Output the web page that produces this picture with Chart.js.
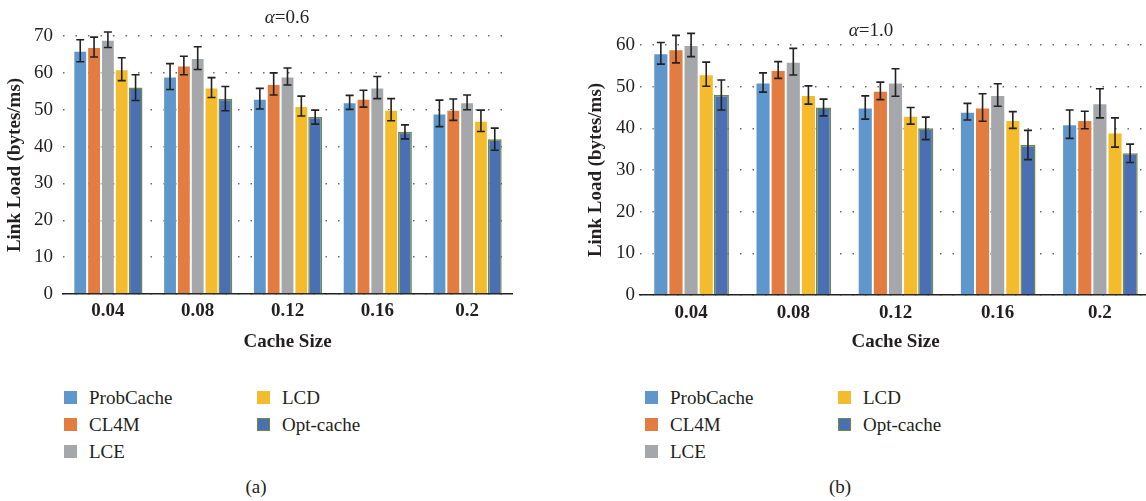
<!DOCTYPE html>
<html lang="en">
<head>
  <meta charset="UTF-8">
  <title>Link Load vs Cache Size</title>
  <script src="https://cdn.jsdelivr.net/npm/chart.js"></script>
  <style>
    html, body { margin: 0; padding: 0; background: #fff; overflow: hidden; }
    body { width: 1146px; height: 501px; position: relative; font-family: "Liberation Serif", serif; color: #231f20; }
    .box { position: absolute; }
    .title { position: absolute; font-size: 19px; transform: translate(-50%, -50%); white-space: nowrap; }
    .cap { position: absolute; font-size: 19px; transform: translate(-50%, -50%); }
    .leg { position: absolute; font-size: 19px; white-space: nowrap; line-height: 1; }
    .leg span.sq { position: absolute; left: 0; top: 3px; width: 13px; height: 13px; box-sizing: border-box; }
  </style>
</head>
<body>
  <div class="box" style="left:0;top:0;width:573px;height:360px"><canvas id="chartA"></canvas></div>
  <div class="box" style="left:573px;top:0;width:578px;height:360px"><canvas id="chartB"></canvas></div>
  <div class="title" style="left:287px;top:17px"><i>α</i>=0.6</div>
  <div class="title" style="left:871px;top:30px"><i>α</i>=1.0</div>
  <div id="legA"></div>
  <div id="legB"></div>
  <div class="cap" style="left:256px;top:487px">(a)</div>
  <div class="cap" style="left:840px;top:487px">(b)</div>

  <script>
    const cacheSizes = ['0.04', '0.08', '0.12', '0.16', '0.2'];
    const seriesNames = ['ProbCache', 'CL4M', 'LCE', 'LCD', 'Opt-cache'];
    const colors = ['#5f97cc', '#e27c40', '#a6a7aa', '#f4bc2d', '#4a6fb3'];

    // alpha = 0.6
    const probA = [66, 59, 53, 52, 49];
    const cl4mA = [67, 62, 57, 53, 50];
    const lceA  = [69, 64, 59, 56, 52];
    const lcdA  = [61, 56, 51, 50, 47];
    const optA  = [56, 53, 48, 44, 42];
    const probErrA = [3, 3.5, 2.8, 1.9, 3.6];
    const cl4mErrA = [2.7, 2.5, 3, 2.3, 2.9];
    const lceErrA  = [2.1, 3.1, 2.3, 3, 2];
    const lcdErrA  = [3.1, 2.7, 2.7, 3, 2.9];
    const optErrA  = [3.5, 3.3, 1.9, 1.9, 3];

    // alpha = 1.0
    const probB = [58, 51, 45, 44, 41];
    const cl4mB = [59, 54, 49, 45, 42];
    const lceB  = [60, 56, 51, 48, 46];
    const lcdB  = [53, 48, 43, 42, 39];
    const optB  = [48, 45, 40, 36, 34];
    const probErrB = [2.6, 2.3, 2.8, 2, 3.4];
    const cl4mErrB = [3.3, 2, 2.1, 3.3, 2.1];
    const lceErrB  = [2.8, 3.2, 3.3, 2.7, 3.5];
    const lcdErrB  = [2.9, 2.2, 2, 2, 3.5];
    const optErrB  = [3.6, 2, 2.7, 3.5, 2.2];

    const yTicksA = { max: 70, step: 10 };
    const yTicksB = { max: 60, step: 10 };

    // draws the error bars from the errs arrays given to each dataset
    const errorBars = {
      id: 'errorBars',
      afterDatasetsDraw(chart) {
        const ctx = chart.ctx;
        const y = chart.scales.y;
        ctx.save();
        ctx.strokeStyle = '#222';
        ctx.lineWidth = 1.6;
        chart.data.datasets.forEach((ds, i) => {
          chart.getDatasetMeta(i).data.forEach((bar, j) => {
            const v = ds.data[j], e = ds.errs[j];
            const top = y.getPixelForValue(v + e);
            const bot = y.getPixelForValue(v - e);
            ctx.beginPath();
            ctx.moveTo(bar.x, top); ctx.lineTo(bar.x, bot);
            ctx.moveTo(bar.x - 4, top); ctx.lineTo(bar.x + 4, top);
            ctx.moveTo(bar.x - 4, bot); ctx.lineTo(bar.x + 4, bot);
            ctx.stroke();
          });
        });
        ctx.restore();
      }
    };

    function makeChart(id, values, errs, ticks, o) {
      const datasets = values.map((vals, i) => ({
        label: seriesNames[i],
        data: vals,
        errs: errs[i],
        backgroundColor: colors[i],
        borderColor: i === 4 ? '#6f8a42' : 'rgba(255,255,255,0.55)',
        borderWidth: i === 4 ? 1.5 : 1
      }));
      return new Chart(document.getElementById(id), {
        type: 'bar',
        data: { labels: cacheSizes, datasets: datasets },
        plugins: [errorBars],
        options: {
          responsive: true,
          maintainAspectRatio: false,
          animation: false,
          layout: { padding: { left: 0, right: o.padRight, top: o.top, bottom: 0 } },
          datasets: { bar: { categoryPercentage: o.catPct, barPercentage: 1 } },
          plugins: { legend: { display: false }, tooltip: { enabled: false } },
          scales: {
            x: {
              grid: { display: false, drawTicks: false },
              border: { display: true, color: '#222', width: 1.5 },
              ticks: { color: '#231f20', padding: o.xPad, font: { family: 'Liberation Serif', size: 19, weight: 'bold' } },
              title: { display: true, text: 'Cache Size', color: '#231f20', padding: { top: 0, bottom: 6.6 },
                       font: { family: 'Liberation Serif', size: 19, weight: 'bold' } },
              afterFit: s => { s.height = 360 - o.bottom; }
            },
            y: {
              min: 0, max: ticks.max,
              grid: { color: '#6a6a6a', lineWidth: 1.5, drawTicks: false },
              border: { display: false, dash: [1.5, 11] },
              ticks: { stepSize: ticks.step, color: '#231f20', padding: o.yPad, font: { family: 'Liberation Serif', size: 19 } },
              title: { display: true, text: 'Link Load (bytes/ms)', color: '#231f20', padding: { top: o.yTitlePad, bottom: 0 },
                       font: { family: 'Liberation Serif', size: 19, weight: 'bold' } },
              afterFit: s => { s.width = o.left; }
            }
          }
        }
      });
    }

    makeChart('chartA', [probA, cl4mA, lceA, lcdA, optA], [probErrA, cl4mErrA, lceErrA, lcdErrA, optErrA], yTicksA,
      { left: 63, padRight: 61, top: 36, bottom: 294, catPct: 0.77, xPad: 6, yPad: 10, yTitlePad: 3.6 });
    makeChart('chartB', [probB, cl4mB, lceB, lcdB, optB], [probErrB, cl4mErrB, lceErrB, lcdErrB, optErrB], yTicksB,
      { left: 67, padRight: 0, top: 45, bottom: 295, catPct: 0.74, xPad: 6.6, yPad: 5, yTitlePad: 11.6 });

    // legends: two columns, filled column by column
    function makeLegend(id, sqX, col2X, textGap) {
      const el = document.getElementById(id);
      const rows = [398, 425, 452];
      seriesNames.forEach((name, i) => {
        const col = i < 3 ? 0 : 1;
        const row = i < 3 ? i : i - 3;
        const d = document.createElement('div');
        d.className = 'leg';
        d.style.left = (col === 0 ? sqX : col2X) + 'px';
        d.style.top = (rows[row] - 10) + 'px';
        d.style.paddingLeft = textGap + 'px';
        const border = i === 4 ? 'border:1.5px solid #6f8a42;' : '';
        d.innerHTML = '<span class="sq" style="background:' + colors[i] + ';' + border + '"></span>' + name;
        el.appendChild(d);
      });
    }
    makeLegend('legA', 64, 257, 25);
    makeLegend('legB', 645, 838, 25);
  </script>
</body>
</html>
